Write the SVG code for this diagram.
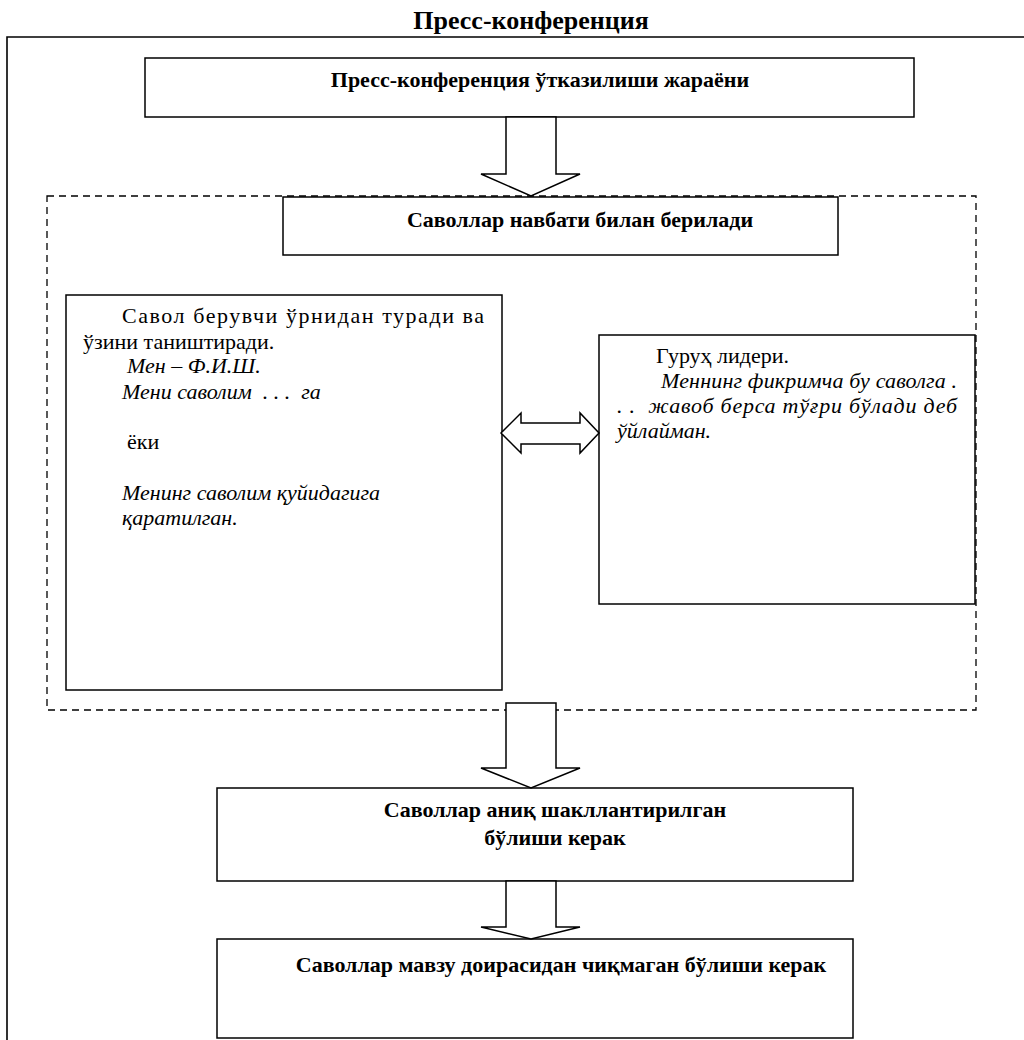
<svg xmlns="http://www.w3.org/2000/svg" width="1024" height="1040" viewBox="0 0 1024 1040" font-family="Liberation Serif, Times New Roman, serif">
<style>
.box{fill:#fff;stroke:#000;stroke-width:1.5}
.dash{fill:none;stroke:#000;stroke-width:1.3;stroke-dasharray:7 5}
.arr{fill:#fff;stroke:#000;stroke-width:1.5;stroke-linejoin:miter}
.b{font-weight:bold;font-size:22px;fill:#000}
.t{font-weight:bold;font-size:26px;fill:#000}
.r{font-size:22px;fill:#000}
.i{font-style:italic;font-size:22px;fill:#000}
</style>
<rect width="1024" height="1040" fill="#fff"/>
<text class="t" x="531" y="29" text-anchor="middle">Пресс-конференция</text>
<path d="M7,1040 V37 H1024" fill="none" stroke="#000" stroke-width="1.6"/>
<rect id="group-frame" class="dash" x="47" y="196" width="929" height="514"/>
<g id="node-process">
<rect class="box" x="145" y="58" width="769" height="59"/>
<text class="b" x="540" y="87" text-anchor="middle">Пресс-конференция ўтказилиши жараёни</text>
</g>
<g id="node-order">
<rect class="box" x="283" y="197" width="555" height="58"/>
<text class="b" x="580" y="227" text-anchor="middle">Саволлар навбати билан берилади</text>
</g>
<g id="node-asker">
<rect class="box" x="66" y="295" width="436" height="395"/>
<text class="r" x="122" y="323" textLength="362" lengthAdjust="spacing">Савол берувчи ўрнидан туради ва</text>
<text class="r" x="83" y="349">ўзини таништиради.</text>
<text class="i" x="127" y="373">Мен – Ф.И.Ш.</text>
<text class="i" x="122" y="399" xml:space="preserve">Мени саволим  . . .  га</text>
<text class="r" x="127" y="449">ёки</text>
<text class="i" x="122" y="500">Менинг саволим қуйидагига</text>
<text class="i" x="122" y="525">қаратилган.</text>
</g>
<g id="node-leader">
<rect class="box" x="599" y="335" width="376" height="269"/>
<text class="r" x="656" y="363">Гуруҳ лидери.</text>
<text class="i" x="661" y="388" textLength="296" lengthAdjust="spacing">Меннинг фикримча бу саволга .</text>
<text class="i" x="617" y="413" textLength="340" lengthAdjust="spacing" xml:space="preserve">. .  жавоб берса тўғри бўлади деб</text>
<text class="i" x="617" y="438">ўйлайман.</text>
</g>
<g id="node-clear">
<rect class="box" x="217" y="788" width="636" height="93"/>
<text class="b" x="555" y="817" text-anchor="middle">Саволлар аниқ шакллантирилган</text>
<text class="b" x="555" y="845" text-anchor="middle">бўлиши керак</text>
</g>
<g id="node-topic">
<rect class="box" x="217" y="939" width="636" height="99"/>
<text class="b" x="561" y="972" text-anchor="middle">Саволлар мавзу доирасидан чиқмаган бўлиши керак</text>
</g>
<g id="connectors">
<path class="arr" d="M506,117 H556 V174 H580 L531,196 L481,174 H506 Z"/>
<path class="arr" d="M501,433 L521,413 V423 H580 V413 L599,433 L580,453 V444 H521 V453 Z"/>
<path class="arr" d="M506,703 H556 V768 H580 L531,788 L481,768 H506 Z"/>
<path class="arr" d="M506,881 H556 V927 H580 L531,939 L481,927 H506 Z"/>
</g>
</svg>
